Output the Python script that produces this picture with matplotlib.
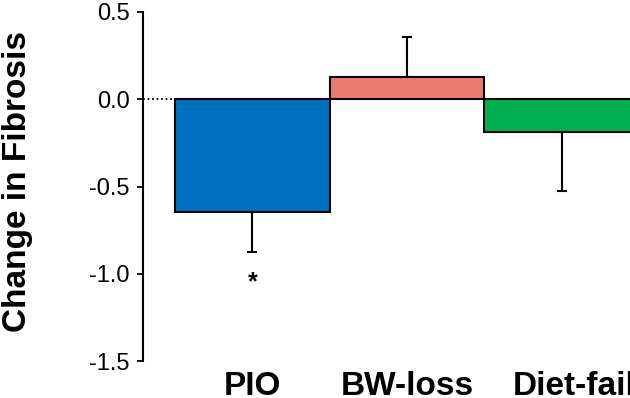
import matplotlib
matplotlib.use("Agg")
import matplotlib.pyplot as plt
import matplotlib.transforms as mtransforms
import numpy as np

plt.rcParams['font.family'] = ['Liberation Sans', 'DejaVu Sans']

categories = ["PIO", "BW-loss", "Diet-fail"]
values = [-0.645, 0.125, -0.19]
errors = [0.23, 0.23, 0.335]
colors = ["#0070C0", "#E97B74", "#00B050"]
yticks = [0.5, 0.0, -0.5, -1.0, -1.5]
ytick_labels = ["0.5", "0.0", "-0.5", "-1.0", "-1.5"]
sig_marks = ["*", "", ""]
sig_y = [-1.05, None, None]

fig = plt.figure(figsize=(6.3, 3.98), dpi=100)
ax = fig.add_axes([143/630, 1-361/398, (630-143)/630, (361-12)/398])

x = np.arange(len(categories))
ax.axhline(0, color="black", lw=1.3, ls=(0, (1, 1.5)), zorder=0)
ax.bar(x, values, width=1.0, color=colors, edgecolor="black", linewidth=1.5, zorder=2)
for xi, v, e in zip(x, values, errors):
    sign = 1 if v >= 0 else -1
    ax.errorbar(xi, v, yerr=[[e], [0]] if sign < 0 else [[0], [e]], fmt="none",
                ecolor="black", elinewidth=1.5, capsize=3.5, capthick=1.5, zorder=1)
for xi, m, sy in zip(x, sig_marks, sig_y):
    if m:
        ax.text(xi, sy, m, ha="center", va="center", fontsize=18, fontweight="bold")

ax.set_xlim(-0.707, 2.443)
ax.set_ylim(-1.5, 0.5)
ax.set_yticks(yticks)
ax.set_yticklabels(ytick_labels, fontsize=17)
ax.tick_params(axis="y", length=4.5, width=1.3, pad=5)
ax.set_xticks(x)
ax.set_xticklabels(categories, fontsize=24, fontweight="bold")
ax.tick_params(axis="x", length=0, pad=7)
lbls = ax.get_xticklabels()
lbls[2].set_transform(lbls[2].get_transform() + mtransforms.ScaledTranslation(0.13, 0, fig.dpi_scale_trans))
for s in ["top", "right", "bottom"]:
    ax.spines[s].set_visible(False)
ax.spines["left"].set_linewidth(1.5)
ax.set_ylabel("Change in Fibrosis", fontsize=24, fontweight="bold")
ax.yaxis.set_label_coords(-0.226, 0.513)

fig.savefig("out.png", dpi=100)
